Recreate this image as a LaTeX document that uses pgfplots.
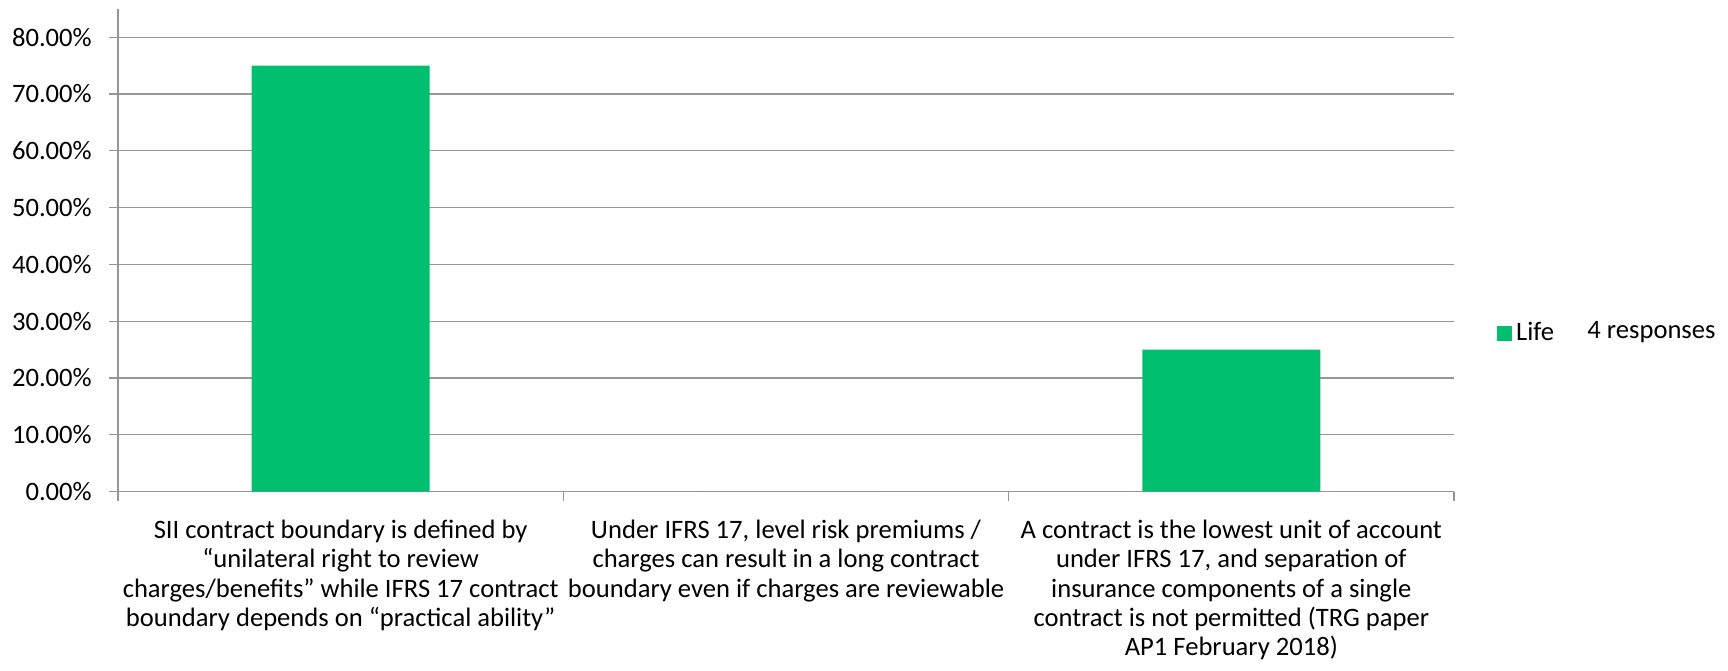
\documentclass[border=0pt]{standalone}
\usepackage{fontspec}
\setmainfont{Carlito}
\usepackage{pgfplots}
\pgfplotsset{compat=1.18}
\definecolor{lifegreen}{RGB}{0,191,111}
\definecolor{gridgray}{RGB}{150,150,150}
\newcommand{\lblfont}{\fontsize{13.3}{14.7}\selectfont}
\begin{document}
\lblfont
\begin{tikzpicture}
\begin{axis}[
  scale only axis,
  width=668pt, height=241.4pt,
  at={(0,0)}, anchor=south west,
  clip=false,
  xmin=-0.5, xmax=2.5, ymin=0, ymax=85,
  axis x line*=bottom, axis y line*=left,
  axis line style={gridgray, line width=0.6pt, -},
  ybar, bar width=0.4,
  ytick={0,10,...,80},
  ymajorgrids,
  grid style={gridgray, line width=0.6pt},
  tick align=outside,
  major tick length=4.5pt,
  tick style={gridgray, line width=0.6pt},
  yticklabel={\pgfmathprintnumber[fixed,fixed zerofill,precision=2,assume math mode=true]{\tick}\%},
  yticklabel style={font=\lblfont, xshift=-4pt},
  xtick={-0.5,0.5,1.5,2.5},
  xticklabels={,,,},
  extra x ticks={0,1,2},
  extra x tick style={major tick length=0pt, grid=none},
  extra x tick labels={
    {SII contract boundary is defined by\\“unilateral right to review\\charges/benefits” while IFRS 17 contract\\boundary depends on “practical ability”},
    {Under IFRS 17, level risk premiums /\\charges can result in a long contract\\boundary even if charges are reviewable},
    {A contract is the lowest unit of account\\under IFRS 17, and separation of\\insurance components of a single\\contract is not permitted (TRG paper\\AP1 February 2018)}},
  x tick label style={align=center, font=\lblfont, anchor=north, yshift=-9.5pt},
  legend style={at={(1.032,0.328)}, anchor=west, draw=none, fill=none,
    inner sep=0pt, font=\lblfont},
  legend image code/.code={\fill[lifegreen] (0pt,-3.75pt) rectangle (7.5pt,3.75pt);},
]
\addplot[draw=none, fill=lifegreen] coordinates {(0,75) (1,0) (2,25)};
\addlegendentry{Life}
\node[anchor=base west, inner sep=0pt] at (rel axis cs:1.0996,0.317) {4 responses};
\end{axis}
\pgfresetboundingbox
\useasboundingbox (-59pt,-89.25pt) rectangle (805pt,245.75pt);
\end{tikzpicture}
\end{document}
